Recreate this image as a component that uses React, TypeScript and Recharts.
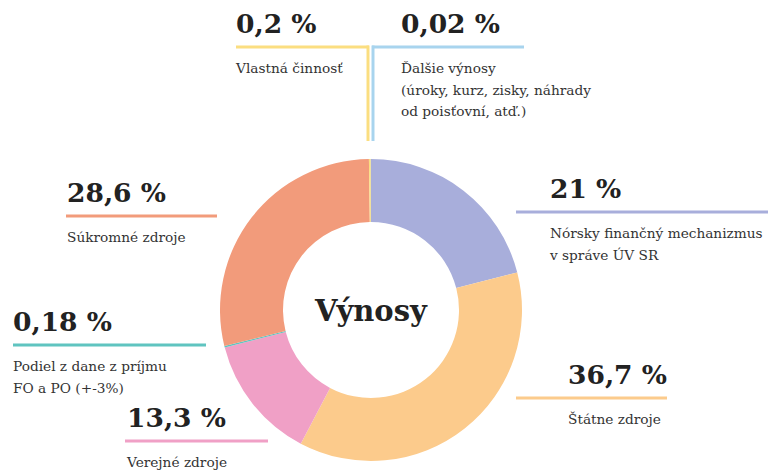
import { PieChart, Pie, Cell } from "recharts";

const categories = [
  "Nórsky finančný mechanizmus\nv správe ÚV SR",
  "Štátne zdroje",
  "Verejné zdroje",
  "Podiel z dane z príjmu\nFO a PO (+-3%)",
  "Súkromné zdroje",
  "Vlastná činnosť",
  "Ďalšie výnosy\n(úroky, kurz, zisky, náhrady\nod poisťovní, atď.)",
];
const shares = [21, 36.7, 13.3, 0.18, 28.6, 0.2, 0.02];
const shareLabels = ["21 %", "36,7 %", "13,3 %", "0,18 %", "28,6 %", "0,2 %", "0,02 %"];
const colors = ["#a8aedb", "#fccb8c", "#f0a0c6", "#5fc4c0", "#f29b7b", "#fbde80", "#a8d4ee"];

// label layout: text x, line y, line start/end, optional vertical drop
const labelLayout = [
  { x: 550, lineY: 212, x1: 516, x2: 768 },
  { x: 568, lineY: 398, x1: 516, x2: 667 },
  { x: 127, lineY: 441, x1: 125, x2: 268 },
  { x: 13, lineY: 345, x1: 13, x2: 206 },
  { x: 67, lineY: 216, x1: 66, x2: 217 },
  { x: 236, lineY: 47, x1: 236, x2: 369, dropX: 368 },
  { x: 401, lineY: 47, x1: 372, x2: 524, dropX: 373 },
];

const data = categories.map((name, i) => ({ name, value: shares[i] }));
const font = "'DejaVu Serif', serif";

export default function App() {
  return (
    <div style={{ position: "fixed", left: 0, top: 0, width: 771, height: 471, background: "#fff" }}>
      <PieChart width={771} height={471} margin={{ top: 0, right: 0, bottom: 0, left: 0 }}>
        <Pie
          data={data}
          dataKey="value"
          cx={371}
          cy={310}
          innerRadius={88}
          outerRadius={151}
          startAngle={90}
          endAngle={-270}
          stroke="none"
          isAnimationActive={false}
        >
          {data.map((d, i) => (
            <Cell key={d.name} fill={colors[i]} />
          ))}
        </Pie>
      </PieChart>
      <svg width={771} height={471} style={{ position: "absolute", left: 0, top: 0, pointerEvents: "none" }}>
        <text x={371} y={321} textAnchor="middle" fontFamily={font} fontWeight={700} fontSize={29} fill="#222">
          Výnosy
        </text>
        {labelLayout.map((l, i) => (
          <g key={i}>
            <line x1={l.x1} x2={l.x2} y1={l.lineY} y2={l.lineY} stroke={colors[i]} strokeWidth={3} />
            {l.dropX !== undefined && (
              <line x1={l.dropX} x2={l.dropX} y1={l.lineY - 1.5} y2={141} stroke={colors[i]} strokeWidth={3} />
            )}
            <text x={l.x} y={l.lineY - 14} fontFamily={font} fontWeight={700} fontSize={26.5} fill="#222">
              {shareLabels[i]}
            </text>
            {categories[i].split("\n").map((t, j) => (
              <text key={j} x={l.x} y={l.lineY + 26 + j * 21.5} fontFamily={font} fontSize={13.7} fill="#333">
                {t}
              </text>
            ))}
          </g>
        ))}
      </svg>
    </div>
  );
}
